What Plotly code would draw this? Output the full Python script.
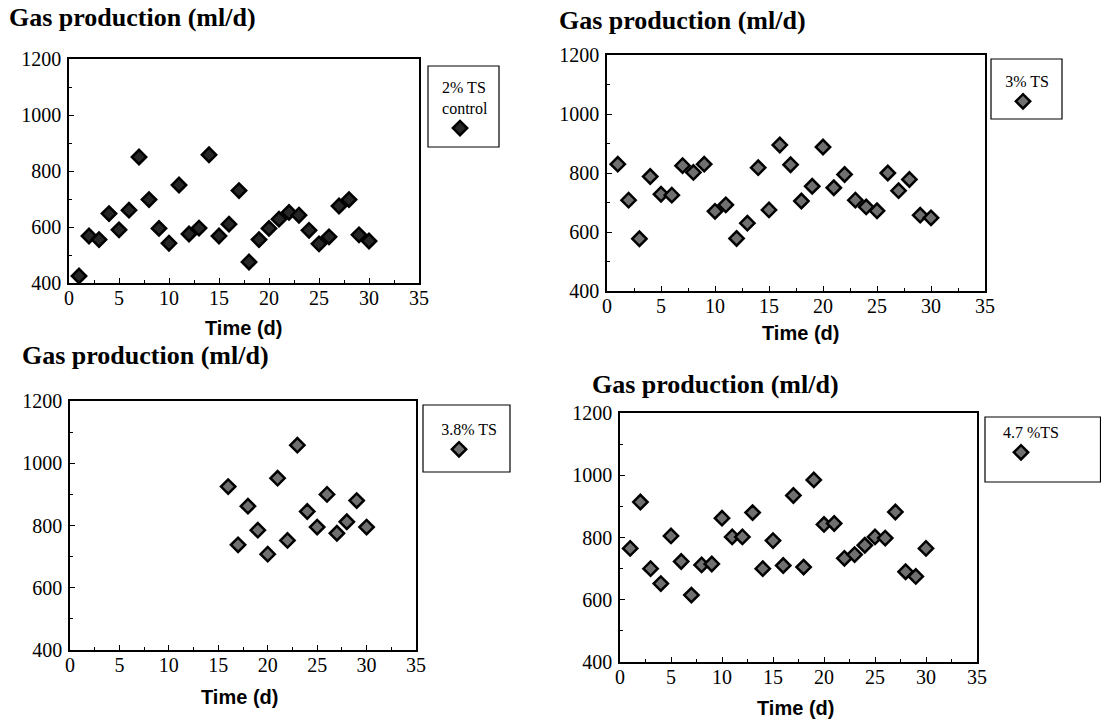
import plotly.graph_objects as go

# Gas production (ml/d) per day, four TS loadings
days = list(range(1, 31))
ts2_control = [425, 568, 555, 648, 590, 660, 850, 698, 595, 542,
               750, 575, 596, 858, 568, 610, 730, 475, 555, 595,
               628, 652, 642, 588, 540, 565, 675, 698, 572, 550]
ts3 = [830, 708, 577, 788, 728, 725, 825, 802, 830, 670,
       692, 578, 630, 818, 675, 895, 828, 705, 755, 888,
       750, 795, 708, 685, 672, 800, 740, 778, 657, 648]
days_38 = list(range(16, 31))
ts38 = [925, 738, 862, 785, 708, 952, 752, 1058, 845, 795,
        900, 775, 812, 880, 795]
ts47 = [765, 914, 700, 652, 805, 723, 615, 712, 715, 862,
        802, 802, 880, 700, 790, 710, 935, 705, 985, 842,
        845, 733, 745, 775, 802, 798, 882, 690, 675, 765]

labels = ["2% TS<br>control", "3% TS", "3.8% TS", "4.7 %TS"]

W, H = 1101, 728
SERIF = "Times New Roman, Liberation Serif, serif"
SANS = "Arial, Liberation Sans, sans-serif"


def px(x):
    return x / W


def py(y):
    return 1 - y / H


# panel geometry in pixels: plot box (left, right, top, bottom),
# legend box (left, right, top, bottom), legend anchor, title, x-title
panels = [
    dict(x=days, y=ts2_control, fill="#262626",
         box=(69, 419, 59, 283), leg=(428, 499, 66, 147), lc=(465, 72),
         title=(7, 17), xt=(243, 328)),
    dict(x=days, y=ts3, fill="#707070",
         box=(607, 985, 55, 291), leg=(991, 1062, 59, 119), lc=(1027, 66),
         title=(557, 20), xt=(800, 333)),
    dict(x=days_38, y=ts38, fill="#707070",
         box=(70, 416, 401, 650), leg=(423, 510, 405, 472), lc=(469, 414),
         title=(20, 355), xt=(239, 697)),
    dict(x=days, y=ts47, fill="#707070",
         box=(620, 977, 413, 662), leg=(985, 1110, 417, 482), lc=(1031, 417),
         title=(590, 384), xt=(795, 708)),
]

fig = go.Figure()
shapes = []
annotations = []
layout = {}

for i, p in enumerate(panels, start=1):
    sfx = "" if i == 1 else str(i)
    l, r, t, b = p["box"]
    fig.add_trace(go.Scatter(
        x=p["x"], y=p["y"], mode="markers", name="", showlegend=True,
        xaxis="x" + sfx, yaxis="y" + sfx, legend="legend" + sfx,
        marker=dict(symbol="diamond", size=11, color=p["fill"],
                    line=dict(color="black", width=2.5)),
    ))
    layout["xaxis" + sfx] = dict(
        domain=[px(l), px(r)], anchor="y" + sfx, range=[0, 35],
        tick0=0, dtick=5, ticks="inside", ticklen=5, tickcolor="black",
        minor=dict(ticks="inside", ticklen=3, dtick=2.5, tickcolor="black"),
        showline=True, mirror=True, linecolor="black", linewidth=1.5,
        showgrid=False, zeroline=False, automargin=False,
        ticklabelstandoff=-4,
        tickfont=dict(family=SERIF, size=20, color="black"),
    )
    layout["yaxis" + sfx] = dict(
        domain=[py(b), py(t)], anchor="x" + sfx, range=[400, 1200],
        tick0=400, dtick=200, ticks="inside", ticklen=5, tickcolor="black",
        minor=dict(ticks="inside", ticklen=3, dtick=100, tickcolor="black"),
        showline=True, mirror=True, linecolor="black", linewidth=1.5,
        showgrid=False, zeroline=False, automargin=False,
        ticklabelstandoff=2,
        tickfont=dict(family=SERIF, size=20, color="black"),
    )
    ll, lr, lt, lb = p["leg"]
    shapes.append(dict(type="rect", xref="paper", yref="paper",
                       x0=px(ll), x1=px(min(lr, W - 0.5)),
                       y0=py(lb), y1=py(lt),
                       line=dict(color="black", width=1.2)))
    lx, ly = p["lc"]
    layout["legend" + sfx] = dict(
        x=px(lx), xanchor="center", y=py(ly), yanchor="top",
        xref="paper", yref="paper",
        bgcolor="rgba(0,0,0,0)", borderwidth=0, itemwidth=30,
        tracegroupgap=0,
        title=dict(text=labels[i - 1], side="top center",
                   font=dict(family=SERIF, size=16, color="black")),
        font=dict(family=SERIF, size=4, color="black"),
    )
    tx, ty = p["title"]
    annotations.append(dict(
        text="<b>Gas production (ml/d)</b>", x=px(tx), y=py(ty),
        xref="paper", yref="paper", xanchor="left", yanchor="middle",
        showarrow=False, font=dict(family=SERIF, size=26, color="black")))
    ax, ay = p["xt"]
    annotations.append(dict(
        text="<b>Time (d)</b>", x=px(ax), y=py(ay),
        xref="paper", yref="paper", xanchor="center", yanchor="middle",
        showarrow=False, font=dict(family=SANS, size=20, color="black")))

fig.update_layout(
    width=W, height=H, margin=dict(l=0, r=0, t=0, b=0),
    paper_bgcolor="white", plot_bgcolor="white", showlegend=True,
    shapes=shapes, annotations=annotations, **layout,
)

fig.write_html("out.html", config={"displayModeBar": False},
               post_script="document.body.style.margin = '0';")
